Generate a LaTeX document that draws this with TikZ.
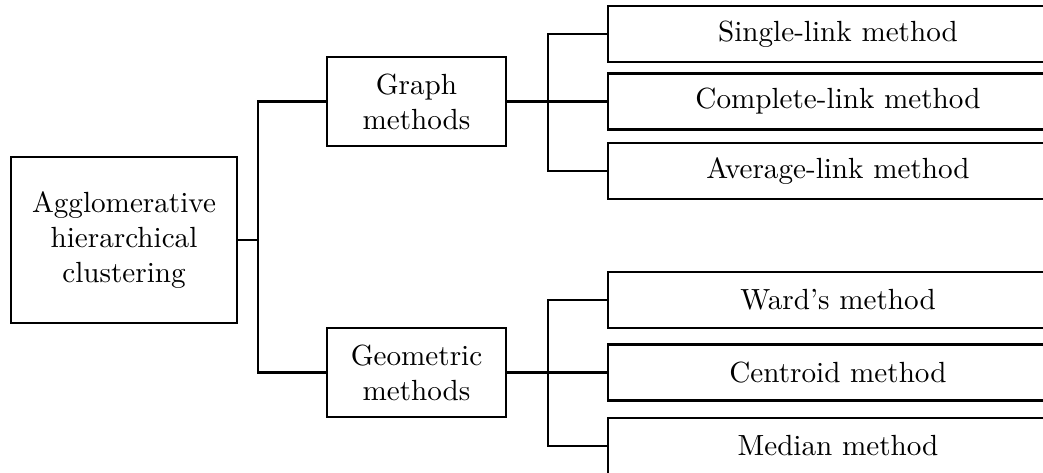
\documentclass[tikz,border=0pt]{standalone}
\begin{document}
\begin{tikzpicture}[x=0.343pt,y=-0.343pt,
  box/.style={draw,line width=0.78pt,rectangle,inner sep=0pt,align=center,font=\normalsize},
  conn/.style={line width=0.78pt}]
\useasboundingbox (0,0) rectangle (1043,473);
\clip (0,0) rectangle (1043,473);
\node[box,minimum width=226*0.343pt,minimum height=166*0.343pt] (root) at (124,240) {Agglomerative\\hierarchical\\clustering};
\node[box,minimum width=179*0.343pt,minimum height=89*0.343pt] (graph) at (416.5,101.5) {Graph\\methods};
\node[box,minimum width=179*0.343pt,minimum height=89*0.343pt] (geo) at (416.5,372.5) {Geometric\\methods};
\tikzset{leaf/.style={box,minimum width=460*0.343pt,minimum height=56*0.343pt}}
\node[leaf] (single) at (838,34) {Single-link method};
\node[leaf] (complete) at (838,101.5) {Complete-link method};
\node[leaf] (average) at (838,171) {Average-link method};
\node[leaf] (ward) at (838,300) {Ward's method};
\node[leaf] (centroid) at (838,372.5) {Centroid method};
\node[leaf] (median) at (838,446) {Median method};
\coordinate (j1) at (258,240);
\coordinate (j2) at (548,101.5);
\coordinate (j3) at (548,372.5);
\draw[conn] (root.east) -- (j1) |- (graph.west);
\draw[conn] (j1) |- (geo.west);
\draw[conn] (graph.east) -- (j2);
\draw[conn] (j2) |- (single.west);
\draw[conn] (j2) -- (complete.west);
\draw[conn] (j2) |- (average.west);
\draw[conn] (geo.east) -- (j3);
\draw[conn] (j3) |- (ward.west);
\draw[conn] (j3) -- (centroid.west);
\draw[conn] (j3) |- (median.west);
\end{tikzpicture}
\end{document}
